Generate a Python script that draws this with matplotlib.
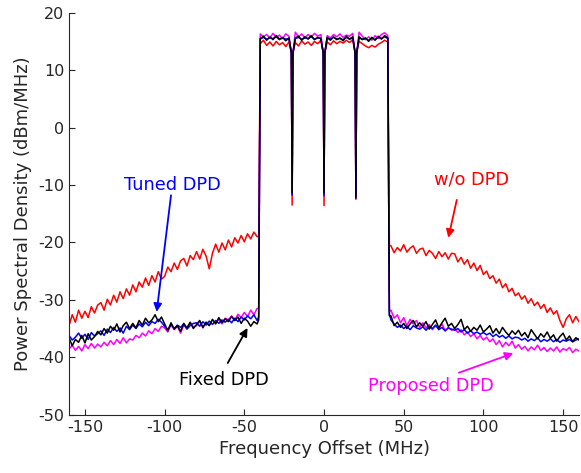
import numpy as np
import matplotlib.pyplot as plt

plt.rcParams['axes.unicode_minus'] = False

# frequency grid (MHz): left out-of-band, in-band (with edges and notches), right out-of-band
f_left = np.arange(-160, -41, 2)
f_band = np.array([-41, -40, -38, -36, -34, -32, -30, -28, -26, -24, -22,
                   -20.5, -20, -19.5,
                   -18, -16, -14, -12, -10, -8, -6, -4, -2,
                   -0.5, 0, 0.5,
                   2, 4, 6, 8, 10, 12, 14, 16, 18,
                   19.5, 20, 20.5,
                   22, 24, 26, 28, 30, 32, 34, 36, 38, 40, 41])
f_right = np.arange(42, 161, 2)

# w/o DPD (red)
red_left = [-34.5, -32.6, -33.9, -31.8, -33.2, -32.0, -33.1, -31.2, -32.3, -30.9,
            -30.5, -31.8, -29.9, -30.9, -29.2, -30.4, -28.6, -29.8, -28.1, -29.2,
            -27.4, -28.6, -26.9, -27.8, -26.2, -27.5, -25.8, -26.9, -25.1, -26.4,
            -25.9, -24.3, -25.1, -23.6, -24.7, -23.2, -22.8, -24.1, -22.3, -23.0,
            -21.6, -22.9, -21.2, -22.4, -24.6, -21.9, -20.3, -21.7, -20.1, -21.3,
            -19.6, -20.8, -19.2, -20.1, -18.8, -19.9, -18.5, -19.4, -18.2, -19.0]
red_band = [-19.0, 14.6, 15.2, 14.3, 14.9, 14.2, 15.0, 14.4, 14.8, 14.1, 14.9,
            13.0, -13.5, 13.0,
            14.8, 14.2, 15.1, 14.5, 14.9, 14.3, 15.0, 14.6, 15.2,
            13.0, -13.6, 13.0,
            14.9, 14.4, 15.1, 14.6, 15.0, 14.7, 15.2, 14.8, 15.3,
            13.0, -12.5, 13.0,
            15.0, 14.6, 14.2, 13.9, 14.3, 14.0, 14.5, 14.8, 15.2, 14.9, -20.5]
red_right = [-20.6, -21.8, -20.9, -21.5, -20.4, -21.7, -21.0, -20.6, -21.9, -21.2,
             -21.0, -22.3, -21.4, -21.9, -22.8, -21.6, -22.5, -21.8, -22.9, -21.9,
             -22.0, -23.4, -22.6, -23.8, -23.0, -24.5, -23.6, -24.9, -24.0, -25.6,
             -25.0, -26.3, -25.8, -27.1, -26.4, -27.9, -27.2, -28.6, -28.0, -29.3,
             -28.8, -29.9, -29.3, -30.6, -29.8, -31.0, -30.4, -31.5, -30.8, -32.2,
             -31.4, -32.5, -31.9, -33.6, -34.8, -33.3, -32.6, -34.0, -32.9, -33.8]

# Tuned DPD (blue)
blue_left = [-36.2, -37.0, -36.5, -35.8, -36.7, -36.0, -36.9, -35.7, -36.3, -35.9,
             -35.4, -36.2, -35.1, -35.7, -34.8, -35.5, -34.9, -35.8, -34.6, -35.2,
             -34.4, -35.0, -34.2, -34.7, -33.9, -34.5, -33.8, -34.1, -33.4, -33.9,
             -34.6, -35.2, -34.3, -35.0, -34.4, -34.8, -34.2, -35.1, -34.5, -34.1,
             -34.0, -34.6, -33.8, -34.4, -33.7, -34.3, -33.6, -34.1, -33.5, -33.9,
             -33.4, -34.0, -33.2, -33.8, -33.0, -33.5, -32.8, -33.3, -32.6, -33.6]
blue_band = [-33.0, 15.4, 15.7, 15.4, 15.6, 15.5, 15.8, 15.3, 15.6, 15.4, 15.5,
             13.0, -11.8, 13.0,
             15.5, 15.7, 15.4, 15.6, 15.5, 15.8, 15.4, 15.6, 15.5,
             13.0, -11.9, 13.0,
             15.6, 15.4, 15.7, 15.4, 15.5, 15.3, 15.7, 15.4, 15.6,
             13.0, -12.0, 13.0,
             15.6, 15.4, 15.5, 15.2, 15.6, 15.3, 15.7, 15.5, 15.8, 15.5, -32.5]
blue_right = [-33.5, -34.2, -34.8, -34.4, -35.0, -34.6, -35.2, -34.5, -34.9, -35.1,
              -34.7, -35.3, -34.6, -35.0, -34.4, -35.2, -34.8, -35.4, -34.9, -35.1,
              -35.3, -35.0, -35.6, -35.2, -35.8, -35.4, -35.9, -35.6, -36.0, -35.7,
              -36.1, -35.8, -36.4, -36.0, -36.5, -36.2, -36.7, -36.3, -36.8, -36.5,
              -36.6, -37.0, -36.7, -37.2, -36.8, -37.1, -36.6, -37.3, -36.9, -37.2,
              -36.8, -37.3, -36.9, -37.4, -37.0, -37.2, -36.9, -37.3, -37.0, -36.8]

# Fixed DPD (black)
black_left = [-36.6, -38.0, -36.9, -37.4, -36.2, -37.5, -35.9, -37.0, -36.4, -35.5,
              -36.1, -35.0, -35.8, -34.6, -35.3, -34.2, -35.6, -34.5, -33.9, -35.0,
              -34.1, -34.9, -33.6, -34.4, -33.2, -34.0, -33.5, -32.6, -33.8, -33.0,
              -34.2, -35.4, -34.0, -35.1, -34.5, -35.5, -34.1, -34.9, -33.9, -35.0,
              -34.3, -33.6, -34.8, -33.9, -34.5, -33.4, -34.2, -33.1, -34.0, -33.3,
              -33.8, -32.9, -33.6, -33.0, -34.1, -33.2, -33.7, -34.6, -33.8, -34.2]
black_band = [-33.5, 15.5, 15.9, 15.2, 15.8, 15.3, 16.0, 15.4, 15.7, 15.1, 15.6,
              13.0, -11.4, 13.0,
              15.6, 15.9, 15.2, 15.8, 15.4, 16.0, 15.3, 15.7, 15.5,
              13.0, -11.4, 13.0,
              15.7, 15.2, 15.8, 15.3, 15.6, 15.1, 15.9, 15.4, 15.8,
              13.0, -12.3, 13.0,
              15.8, 15.3, 15.6, 15.0, 15.7, 15.2, 15.9, 15.4, 16.0, 15.6, -32.8]
black_right = [-32.8, -34.5, -33.9, -34.8, -34.1, -35.0, -34.2, -33.6, -34.7, -34.0,
               -34.6, -33.8, -35.1, -34.3, -33.5, -34.9, -34.0, -33.2, -34.6, -34.1,
               -35.0, -34.3, -33.4, -35.2, -34.6, -35.5, -34.8, -35.3, -34.4, -35.6,
               -35.1, -34.5, -35.8, -35.0, -35.9, -34.8, -35.6, -36.2, -35.4, -36.0,
               -35.3, -36.3, -35.7, -36.6, -35.2, -36.0, -36.8, -35.9, -36.5, -35.6,
               -36.7, -36.1, -37.2, -36.4, -35.8, -37.0, -36.3, -37.3, -36.6, -37.0]

# Proposed DPD (magenta)
mag_left = [-38.6, -37.9, -38.8, -38.1, -38.9, -37.8, -38.5, -37.6, -38.4, -37.7,
            -38.2, -37.4, -38.0, -37.1, -37.8, -36.9, -37.6, -36.6, -37.5, -36.8,
            -37.0, -36.2, -36.6, -35.8, -36.3, -35.4, -35.9, -35.0, -35.5, -34.6,
            -34.9, -35.6, -34.3, -35.2, -34.6, -35.8, -34.4, -35.0, -34.0, -34.7,
            -34.5, -33.7, -34.9, -33.9, -34.4, -33.5, -34.1, -33.4, -34.2, -33.2,
            -33.5, -32.8, -33.6, -32.5, -33.1, -32.2, -32.9, -31.8, -32.6, -31.5]
mag_band = [-31.5, 16.3, 15.8, 16.2, 15.6, 16.4, 15.7, 16.1, 15.5, 16.3, 15.9,
            13.0, -11.6, 13.0,
            16.6, 15.8, 16.3, 15.6, 16.2, 15.7, 16.4, 15.9, 16.2,
            13.0, -11.5, 13.0,
            16.0, 15.6, 16.2, 15.8, 16.3, 15.7, 16.1, 15.9, 16.4,
            13.0, -12.2, 13.0,
            16.6, 15.9, 15.3, 15.8, 15.2, 16.0, 15.5, 16.2, 16.5, 16.0, -32.0]
mag_right = [-31.8, -33.2, -32.6, -34.0, -33.1, -34.5, -33.4, -34.2, -33.6, -34.8,
             -34.0, -34.9, -34.3, -35.2, -34.5, -35.0, -34.2, -35.4, -34.8, -35.3,
             -35.0, -35.7, -35.2, -36.1, -35.6, -36.4, -35.9, -36.8, -36.2, -37.0,
             -36.5, -37.3, -36.8, -37.8, -37.1, -38.2, -37.4, -38.0, -37.2, -38.4,
             -37.8, -38.6, -38.1, -38.9, -38.2, -38.7, -37.9, -38.8, -38.3, -39.0,
             -38.4, -38.9, -38.2, -39.1, -38.5, -38.8, -38.3, -39.2, -38.6, -38.9]

freq = np.concatenate([f_left, f_band, f_right])
series = [
    (red_left + red_band + red_right, '#ff0000'),
    (mag_left + mag_band + mag_right, '#ff00ff'),
    (blue_left + blue_band + blue_right, '#0000ff'),
    (black_left + black_band + black_right, '#000000'),
]

fig = plt.figure(figsize=(5.81, 4.73), dpi=100)
ax = fig.add_axes([0.1188, 0.1233, 0.8778, 0.8499])

for vals, col in series:
    ax.plot(freq, vals, color=col, lw=1.1)

ax.set_xlim(-160, 160)
ax.set_ylim(-50, 20)
ax.set_xticks(np.arange(-150, 151, 50))
ax.set_yticks(np.arange(-50, 21, 10))
ax.tick_params(direction='in', length=4, labelsize=11.5, colors='#262626')
for s in ['top', 'right']:
    ax.spines[s].set_visible(False)
for s in ['left', 'bottom']:
    ax.spines[s].set_color('#262626')
ax.set_xlabel('Frequency Offset (MHz)', fontsize=13, color='#262626')
ax.set_ylabel('Power Spectral Density (dBm/MHz)', fontsize=13, color='#262626')

# annotations
def note(txt, txy, tip, tail, col):
    ax.text(txy[0], txy[1], txt, color=col, fontsize=12.8, ha='center', va='center')
    ax.annotate('', xy=tip, xytext=tail,
                arrowprops=dict(arrowstyle='-|>', color=col, lw=1.3,
                                mutation_scale=12, shrinkA=0, shrinkB=0))

note('Tuned DPD', (-95, -10), (-105, -32.1), (-96, -11.8), '#0000ff')
note('w/o DPD', (92.7, -9), (78, -19.2), (83.3, -12.6), '#ff0000')
note('Fixed DPD', (-63, -44), (-48, -34.9), (-60.4, -41), '#000000')
note('Proposed DPD', (67.3, -45), (118.8, -39.3), (84.6, -42.7), '#ff00ff')

plt.savefig('out.png', dpi=100)
